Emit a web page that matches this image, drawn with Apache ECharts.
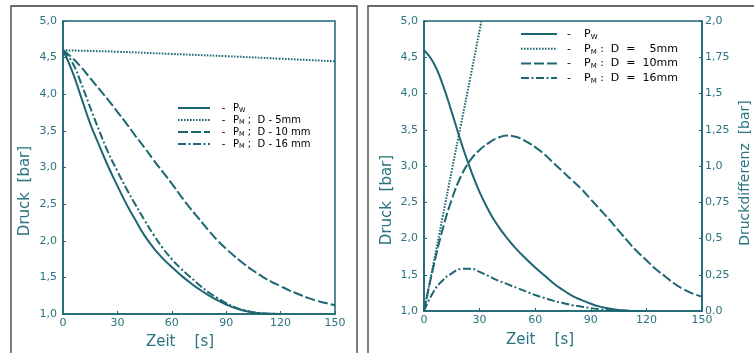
<!DOCTYPE html>
<html><head><meta charset="utf-8">
<script src="https://cdn.jsdelivr.net/npm/echarts@6/dist/echarts.min.js"></script>
<style>html,body{margin:0;padding:0;background:#fff}#c{width:754px;height:353px}</style>
</head><body><div id="c"></div>
<script>
// ---- data ----
const timeA = [0,5,10,15,20,25,30,35,40,45,50,55,60,65,70,75,80,85,90,95,100,105,110,115,120];
const timeB = [0,5,10,15,20,25,30,35,40,45,50,55,60,65,70,75,80,85,90,95,100,105,110,115,120,125,130,135,140,145,150];
const timeDotL = [0,30,60,90,120,150];
const timeDotR = [0,5,10,15,20,25,31];
// left chart (pressure, bar)
const leftPw  = [4.6,4.32,3.96,3.6,3.3,3.01,2.75,2.5,2.28,2.07,1.9,1.76,1.64,1.53,1.43,1.34,1.26,1.19,1.13,1.08,1.045,1.02,1.008,1.002,1.0];
const left5   = [4.6,4.58,4.55,4.52,4.485,4.45];
const left10  = [4.6,4.5,4.37,4.22,4.07,3.92,3.76,3.6,3.43,3.27,3.1,2.94,2.78,2.61,2.45,2.3,2.15,2.01,1.89,1.78,1.68,1.59,1.51,1.44,1.38,1.32,1.27,1.22,1.18,1.15,1.12];
const left16  = [4.6,4.44,4.15,3.82,3.5,3.2,2.95,2.71,2.49,2.28,2.08,1.9,1.75,1.62,1.51,1.4,1.3,1.22,1.15,1.09,1.05,1.025,1.01,1.003,1.0];
// right chart: Pw (pressure, bar) and pressure differences (bar)
const rightPw = [4.6,4.43,4.13,3.74,3.33,2.96,2.64,2.38,2.17,2.0,1.85,1.72,1.6,1.49,1.38,1.29,1.21,1.15,1.1,1.06,1.035,1.015,1.005,1.001,1.0];
const diff5   = [0,0.32,0.645,0.97,1.29,1.61,2.0];
const diff10  = [0,0.3,0.56,0.77,0.93,1.04,1.11,1.16,1.195,1.21,1.2,1.17,1.13,1.08,1.02,0.96,0.9,0.84,0.77,0.7,0.63,0.555,0.48,0.41,0.35,0.29,0.24,0.19,0.15,0.12,0.1];
const diff16  = [0,0.13,0.21,0.26,0.29,0.292,0.27,0.24,0.21,0.185,0.16,0.135,0.11,0.09,0.07,0.055,0.04,0.03,0.02,0.012,0.007,0.003,0.001,0,0];
// tick labels
const xTickLabels = ['0','30','60','90','120','150'];
const pressLabels = ['1,0','1,5','2,0','2,5','3,0','3,5','4,0','4,5','5,0'];
const diffLabels  = ['0.0','0,25','0,5','0,75','1,0','1,25','1,5','1,75','2,0'];
// legend texts
const legendLeft  = ['{d|-}{t|P}{s|W}', '{d|-}{t|P}{s|M}{t| ;  D - 5mm}', '{d|-}{t|P}{s|M}{t| ;  D - 10 mm}', '{d|-}{t|P}{s|M}{t| ;  D - 16 mm}'];
const legendRight = ['{d|-}{t|  P}{s|W}', '{d|-}{t|  P}{s|M}{t| :  D  =    5mm}', '{d|-}{t|  P}{s|M}{t| :  D  =  10mm}', '{d|-}{t|  P}{s|M}{t| :  D  =  16mm}'];

// ---- chart ----
const C = '#1d6773';
const TXT = '#2a7380';
const FONT = 'DejaVu Sans';
const zip = (xs, ys) => xs.map((x, i) => [x, ys[i]]);
const styles = ['solid', [1.6,1.4], [10,3], [8,2.5,2,2.5]];

function xAxis(gi) {
  return {type:'value', gridIndex:gi, min:0, max:150, interval:30,
    axisLine:{show:true, lineStyle:{color:C, width:1.5}},
    axisTick:{show:true, inside:true, length:3, lineStyle:{color:C}},
    axisLabel:{color:TXT, fontFamily:FONT, fontSize:11, margin:4,
      formatter:v => xTickLabels[Math.round(v/30)]},
    splitLine:{show:false}};
}
function yAxis(gi, pos, isDiff) {
  return {type:'value', gridIndex:gi, position:pos,
    min: isDiff ? 0 : 1, max: isDiff ? 2 : 5, interval: isDiff ? 0.25 : 0.5,
    axisLine:{show:true, onZero:false, lineStyle:{color:C, width:1.5}},
    axisTick:{show:true, inside:true, length:3, lineStyle:{color:C}},
    axisLabel:{color:TXT, fontFamily:FONT, fontSize:11, margin: isDiff ? 3 : 6,
      formatter: v => isDiff ? diffLabels[Math.round(v/0.25)] : pressLabels[Math.round((v-1)/0.5)]},
    splitLine:{show:false}};
}
function ser(xi, yi, data, k) {
  return {type:'line', xAxisIndex:xi, yAxisIndex:yi, data, smooth:true,
    showSymbol:false, symbol:'none', clip:true,
    lineStyle:{color:C, width:2, type:styles[k]}, itemStyle:{color:C}};
}
function richFor(fs, sub, pad, dw) {
  return {
    d:{width:dw, align:'center', fontSize:fs, color:TXT, fontFamily:FONT},
    s:{fontSize:sub, color:TXT, fontFamily:FONT, padding:[pad,0,0,0]},
    t:{fontSize:fs, color:TXT, fontFamily:FONT}
  };
}
function legendGraphics(x0, x1, y0, gap, texts, rich) {
  const out = [];
  texts.forEach((t, i) => {
    const y = y0 + i * gap;
    out.push({type:'line', silent:true, shape:{x1:x0, y1:y, x2:x1, y2:y},
      style:{stroke:C, lineWidth:2, lineDash: styles[i] === 'solid' ? null : styles[i]}});
    out.push({type:'text', silent:true, x:x1 + 4, y:y,
      style:{text:t, rich:rich, textVerticalAlign:'middle', textAlign:'left'}});
  });
  return out;
}

const option = {
  animation:false,
  backgroundColor:'#fff',
  grid:[
    {left:63, top:21, width:272, height:293, show:true, borderColor:C, borderWidth:1.5},
    {left:424, top:21, width:278, height:290, show:true, borderColor:C, borderWidth:1.5}
  ],
  xAxis:[xAxis(0), xAxis(1)],
  yAxis:[yAxis(0,'left',false), yAxis(1,'left',false), yAxis(1,'right',true)],
  series:[
    ser(0,0,zip(timeA,leftPw),0),
    ser(0,0,zip(timeDotL,left5),1),
    ser(0,0,zip(timeB,left10),2),
    ser(0,0,zip(timeA,left16),3),
    ser(1,1,zip(timeA,rightPw),0),
    ser(1,2,zip(timeDotR,diff5),1),
    ser(1,2,zip(timeB,diff10),2),
    ser(1,2,zip(timeA,diff16),3)
  ],
  graphic:[
    {type:'rect', shape:{x:11, y:6, width:346, height:400}, style:{fill:null, stroke:'#3a3a3a', lineWidth:1.3}, silent:true},
    {type:'rect', shape:{x:368, y:6, width:400, height:400}, style:{fill:null, stroke:'#3a3a3a', lineWidth:1.3}, silent:true},
    {type:'text', x:25, y:191, rotation:Math.PI/2, style:{text:'Druck  [bar]', fill:TXT, font:'15px "DejaVu Sans"', textAlign:'center', textVerticalAlign:'middle'}},
    {type:'text', x:180, y:342, style:{text:'Zeit    [s]', fill:TXT, font:'15px "DejaVu Sans"', textAlign:'center', textVerticalAlign:'middle'}},
    {type:'text', x:387, y:200, rotation:Math.PI/2, style:{text:'Druck  [bar]', fill:TXT, font:'15px "DejaVu Sans"', textAlign:'center', textVerticalAlign:'middle'}},
    {type:'text', x:540, y:340, style:{text:'Zeit    [s]', fill:TXT, font:'15px "DejaVu Sans"', textAlign:'center', textVerticalAlign:'middle'}},
    {type:'text', x:745, y:173, rotation:Math.PI/2, style:{text:'Druckdifferenz  [bar]', fill:TXT, font:'14px "DejaVu Sans"', textAlign:'center', textVerticalAlign:'middle'}}
  ].concat(
    legendGraphics(178, 210, 108, 12, legendLeft, richFor(10, 6.5, 5, 19)),
    legendGraphics(521, 557, 34, 14.7, legendRight, richFor(11, 7, 6, 16))
  )
};
echarts.init(document.getElementById('c')).setOption(option);
</script></body></html>
